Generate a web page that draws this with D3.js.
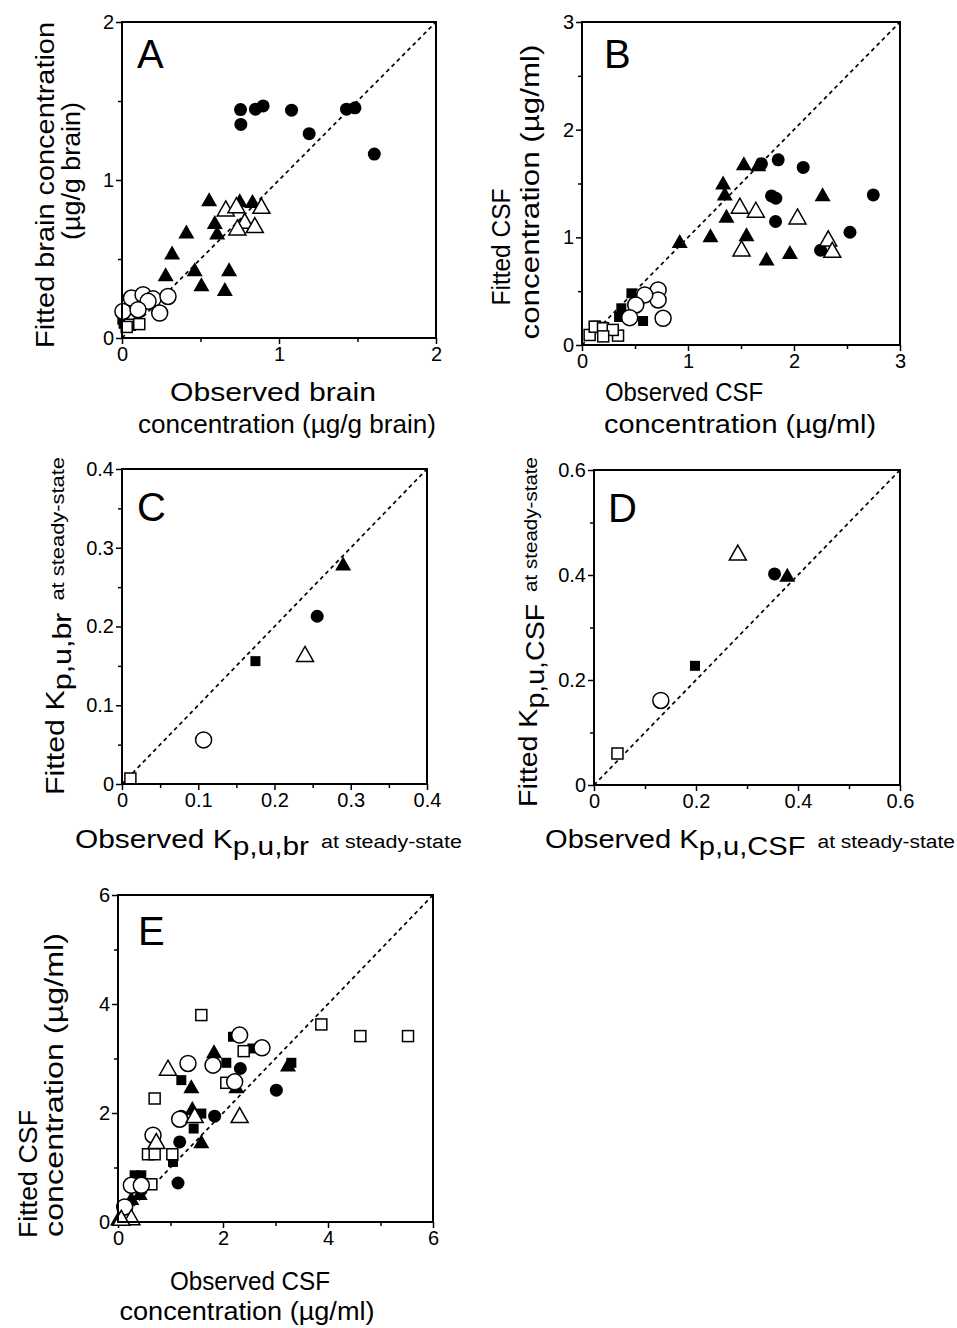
<!DOCTYPE html>
<meta charset="utf-8">
<script src="https://d3js.org/d3.v7.min.js"></script>
<style>
  body { margin: 0; background: #fff; }
  text { font-family: "Liberation Sans", Arial, sans-serif; fill: #000; }
</style>
<div id="chart"></div>
<script>
// ---- data (observed, fitted) ----
// Panel A: brain concentration (ug/g brain)
const aFilledCircle = [[0.755,1.446],[0.757,1.352],[0.850,1.448],[0.899,1.469],[1.080,1.442],[1.192,1.293],[1.430,1.448],[1.484,1.457],[1.607,1.164]];
const aFilledTriangle = [[0.555,0.863],[0.410,0.659],[0.319,0.526],[0.278,0.389],[0.463,0.421],[0.506,0.326],[0.655,0.295],[0.682,0.421],[0.591,0.720],[0.606,0.653],[0.750,0.857],[0.831,0.853]];
const aOpenTriangle = [[0.661,0.804],[0.729,0.825],[0.888,0.821],[0.782,0.726],[0.735,0.684],[0.846,0.699]];
const aOpenCircle = [[0.006,0.168],[0.060,0.253],[0.134,0.274],[0.198,0.248],[0.293,0.263],[0.240,0.158],[0.166,0.232],[0.102,0.179]];
const aFilledSquare = [[0.002,0.116],[0.010,0.090]];
const aOpenSquare = [[0.050,0.084],[0.110,0.088],[0.030,0.070]];

// Panel B: CSF concentration (ug/ml)
const bFilledCircle = [[1.693,1.683],[1.851,1.720],[2.087,1.649],[1.788,1.385],[1.829,1.363],[1.826,1.147],[2.748,1.394],[2.528,1.047],[2.251,0.880]];
const bFilledTriangle = [[1.527,1.667],[1.662,1.658],[1.331,1.487],[1.347,1.385],[1.363,1.178],[0.922,0.945],[1.212,0.998],[1.552,1.007],[1.741,0.781],[1.961,0.843],[2.270,1.379]];
const bOpenTriangle = [[1.489,1.271],[1.640,1.233],[2.033,1.171],[1.505,0.874],[2.323,0.967],[2.361,0.861]];
const bFilledSquare = [[0.466,0.480],[0.371,0.341],[0.576,0.223],[0.350,0.260],[0.130,0.180],[0.200,0.170]];
const bOpenCircle = [[0.718,0.511],[0.718,0.418],[0.592,0.465],[0.507,0.372],[0.450,0.254],[0.765,0.248]];
const bOpenSquare = [[0.072,0.093],[0.120,0.170],[0.198,0.155],[0.340,0.087],[0.290,0.140],[0.200,0.080]];

// Panel C: Kp,u,br at steady-state
const cFilledCircle = [[0.256,0.213]];
const cFilledTriangle = [[0.290,0.277]];
const cOpenTriangle = [[0.240,0.162]];
const cFilledSquare = [[0.175,0.156]];
const cOpenCircle = [[0.107,0.056]];
const cOpenSquare = [[0.011,0.007]];

// Panel D: Kp,u,CSF at steady-state
const dFilledCircle = [[0.354,0.402]];
const dFilledTriangle = [[0.379,0.396]];
const dOpenTriangle = [[0.282,0.438]];
const dFilledSquare = [[0.198,0.227]];
const dOpenCircle = [[0.131,0.161]];
const dOpenSquare = [[0.046,0.060]];

// Panel E: CSF concentration (ug/ml)
const eFilledCircle = [[2.330,2.817],[3.016,2.419],[1.841,1.941],[1.206,1.941],[1.175,1.470],[1.143,0.716]];
const eFilledTriangle = [[1.829,3.092],[1.397,2.449],[1.416,2.051],[2.254,2.449],[3.238,2.847],[1.587,1.439],[0.254,0.398],[0.413,0.490],[0.000,0.020]];
const eOpenTriangle = [[0.952,2.786],[1.460,1.917],[2.317,1.917],[0.730,1.439],[0.254,0.043],[0.063,0.030]];
const eFilledSquare = [[2.190,3.399],[2.063,2.921],[2.560,3.184],[1.206,2.603],[3.302,2.921],[1.587,1.990],[1.441,1.715],[1.048,1.102],[0.317,0.857],[0.444,0.857]];
const eOpenCircle = [[2.317,3.429],[2.743,3.197],[1.333,2.909],[1.810,2.878],[2.222,2.572],[1.175,1.886],[0.667,1.592],[0.254,0.674],[0.444,0.674],[0.127,0.276]];
const eOpenSquare = [[1.587,3.797],[3.873,3.625],[4.616,3.411],[5.524,3.411],[2.394,3.135],[2.063,2.554],[0.698,2.266],[0.571,1.243],[0.698,1.243],[1.035,1.243],[0.635,0.692]];

// tick labels
const aTicks = [0, 1, 2], aMinor = [0.5, 1.5];
const bTicks = [0, 1, 2, 3], bMinor = [0.5, 1.5, 2.5];
const cTicks = [0, 0.1, 0.2, 0.3, 0.4], cMinor = [0.05, 0.15, 0.25, 0.35];
const dTicks = [0, 0.2, 0.4, 0.6], dMinor = [0.1, 0.3, 0.5];
const eTicks = [0, 2, 4, 6], eMinor = [1, 3, 5];

const svg = d3.select("#chart").append("svg")
  .attr("width", 957)
  .attr("height", 1328);

function tri(w, h) {
  return `M0,${-2 * h / 3}L${w / 2},${h / 3}L${-w / 2},${h / 3}Z`;
}

function drawPanel(p) {
  const x = d3.scaleLinear().domain([0, p.max]).range([p.left, p.right]);
  const y = d3.scaleLinear().domain([0, p.max]).range([p.bottom, p.top]);
  const g = svg.append("g");

  // minor ticks
  g.append("g").attr("transform", `translate(0,${p.bottom})`)
    .call(d3.axisBottom(x).tickValues(p.minor).tickSize(4).tickFormat(""))
    .call(s => s.select(".domain").remove());
  g.append("g").attr("transform", `translate(${p.left},0)`)
    .call(d3.axisLeft(y).tickValues(p.minor).tickSize(4).tickFormat(""))
    .call(s => s.select(".domain").remove());

  // major ticks + labels
  const fmt = d => String(+d.toFixed(2));
  g.append("g").attr("transform", `translate(0,${p.bottom})`)
    .call(d3.axisBottom(x).tickValues(p.ticks).tickSize(6).tickPadding(3).tickFormat(fmt))
    .call(s => s.select(".domain").remove())
    .call(s => s.selectAll("text").attr("font-size", 20).style("font-family", "Liberation Sans, Arial"));
  g.append("g").attr("transform", `translate(${p.left},0)`)
    .call(d3.axisLeft(y).tickValues(p.ticks).tickSize(6).tickPadding(2).tickFormat(fmt))
    .call(s => s.select(".domain").remove())
    .call(s => s.selectAll("text").attr("font-size", 20).style("font-family", "Liberation Sans, Arial"));
  g.selectAll(".tick line").attr("stroke-width", 1.5);

  // identity line
  g.append("line")
    .attr("x1", x(0)).attr("y1", y(0))
    .attr("x2", x(p.max)).attr("y2", y(p.max))
    .attr("stroke", "#000").attr("stroke-width", 1.7)
    .attr("stroke-dasharray", "4,3.5");

  // markers: filled first, open (white-filled) on top
  const pt = d => `translate(${x(d[0])},${y(d[1])})`;
  g.selectAll(".fs").data(p.fs).join("rect").attr("class", "fs")
    .attr("x", d => x(d[0]) - 5).attr("y", d => y(d[1]) - 5)
    .attr("width", 10).attr("height", 10).attr("fill", "#000");
  g.selectAll(".fc").data(p.fc).join("circle").attr("class", "fc")
    .attr("cx", d => x(d[0])).attr("cy", d => y(d[1])).attr("r", 6.5).attr("fill", "#000");
  g.selectAll(".ft").data(p.ft).join("path").attr("class", "ft")
    .attr("transform", pt).attr("d", tri(16, 14)).attr("fill", "#000");
  g.selectAll(".os").data(p.os).join("rect").attr("class", "os")
    .attr("x", d => x(d[0]) - 5.5).attr("y", d => y(d[1]) - 5.5)
    .attr("width", 11).attr("height", 11)
    .attr("fill", "#fff").attr("stroke", "#000").attr("stroke-width", 1.5);
  g.selectAll(".oc").data(p.oc).join("circle").attr("class", "oc")
    .attr("cx", d => x(d[0])).attr("cy", d => y(d[1])).attr("r", 8)
    .attr("fill", "#fff").attr("stroke", "#000").attr("stroke-width", 1.5);
  g.selectAll(".ot").data(p.ot).join("path").attr("class", "ot")
    .attr("transform", pt).attr("d", tri(17, 15))
    .attr("fill", "#fff").attr("stroke", "#000").attr("stroke-width", 1.5);

  // frame
  g.append("rect")
    .attr("x", p.left).attr("y", p.top)
    .attr("width", p.right - p.left).attr("height", p.bottom - p.top)
    .attr("fill", "none").attr("stroke", "#000").attr("stroke-width", 2);

  // panel letter
  g.append("text").attr("x", p.left + p.lx).attr("y", p.top + p.ly)
    .attr("font-size", 40).text(p.letter);
}

// single-line title stretched to the width it has in the figure
function label(cx, cy, str, len, rotate) {
  const t = svg.append("text")
    .attr("font-size", 25)
    .attr("text-anchor", "middle")
    .attr("textLength", len)
    .attr("lengthAdjust", "spacingAndGlyphs");
  if (rotate) t.attr("transform", `translate(${cx},${cy}) rotate(-90)`);
  else t.attr("x", cx).attr("y", cy);
  t.text(str);
}

// "K" label: main + subscript + small "at steady-state", spread over [start, start+span]
function kLabel(x0, y0, prefix, sub, span, rotate) {
  const g = svg.append("g")
    .attr("transform", rotate ? `translate(${x0},${y0}) rotate(-90)` : `translate(${x0},${y0})`);
  const parts = [
    { s: prefix, size: 25, dy: 0, gap: 0 },
    { s: sub, size: 25, dy: 7, gap: 12 },
    { s: "at steady-state", size: 18, dy: 0, gap: 0 }
  ];
  const nodes = parts.map(p => g.append("text").attr("font-size", p.size).attr("y", p.dy).text(p.s));
  const nat = nodes.map(n => n.node().getComputedTextLength());
  const gaps = d3.sum(parts, p => p.gap);
  const k = (span - gaps) / d3.sum(nat);
  let pos = 0;
  nodes.forEach((n, i) => {
    n.attr("x", pos).attr("textLength", nat[i] * k).attr("lengthAdjust", "spacingAndGlyphs");
    pos += nat[i] * k + parts[i].gap;
  });
}

drawPanel({ letter: "A", left: 122, right: 436, top: 22, bottom: 338, max: 2, ticks: aTicks, minor: aMinor, lx: 15, ly: 46,
  fc: aFilledCircle, ft: aFilledTriangle, ot: aOpenTriangle, oc: aOpenCircle, fs: aFilledSquare, os: aOpenSquare });
drawPanel({ letter: "B", left: 582, right: 900, top: 22, bottom: 345, max: 3, ticks: bTicks, minor: bMinor, lx: 22, ly: 46,
  fc: bFilledCircle, ft: bFilledTriangle, ot: bOpenTriangle, oc: bOpenCircle, fs: bFilledSquare, os: bOpenSquare });
drawPanel({ letter: "C", left: 122, right: 427, top: 469, bottom: 784, max: 0.4, ticks: cTicks, minor: cMinor, lx: 15, ly: 52,
  fc: cFilledCircle, ft: cFilledTriangle, ot: cOpenTriangle, oc: cOpenCircle, fs: cFilledSquare, os: cOpenSquare });
drawPanel({ letter: "D", left: 594, right: 900, top: 470, bottom: 785, max: 0.6, ticks: dTicks, minor: dMinor, lx: 14, ly: 52,
  fc: dFilledCircle, ft: dFilledTriangle, ot: dOpenTriangle, oc: dOpenCircle, fs: dFilledSquare, os: dOpenSquare });
drawPanel({ letter: "E", left: 118, right: 433, top: 895, bottom: 1222, max: 6, ticks: eTicks, minor: eMinor, lx: 20, ly: 50,
  fc: eFilledCircle, ft: eFilledTriangle, ot: eOpenTriangle, oc: eOpenCircle, fs: eFilledSquare, os: eOpenSquare });

// axis titles
label(273, 401, "Observed  brain", 206);
label(287, 433, "concentration (\u00b5g/g brain)", 298);
label(54, 185, "Fitted brain concentration", 326, true);
label(80, 171, "(\u00b5g/g brain)", 138, true);

label(684, 401, "Observed CSF", 158);
label(740, 433, "concentration (\u00b5g/ml)", 272);
label(510, 247, "Fitted CSF", 117, true);
label(539, 192, "concentration (\u00b5g/ml)", 295, true);

kLabel(75, 848, "Observed K", "p,u,br", 387, false);
kLabel(64, 795, "Fitted K", "p,u,br", 338, true);

kLabel(545, 848, "Observed K", "p,u,CSF", 410, false);
kLabel(537, 807, "Fitted K", "p,u,CSF", 350, true);

label(250, 1290, "Observed CSF", 160);
label(247, 1320, "concentration (\u00b5g/ml)", 255);
label(37, 1174, "Fitted CSF", 128, true);
label(63, 1085, "concentration (\u00b5g/ml)", 304, true);
</script>
